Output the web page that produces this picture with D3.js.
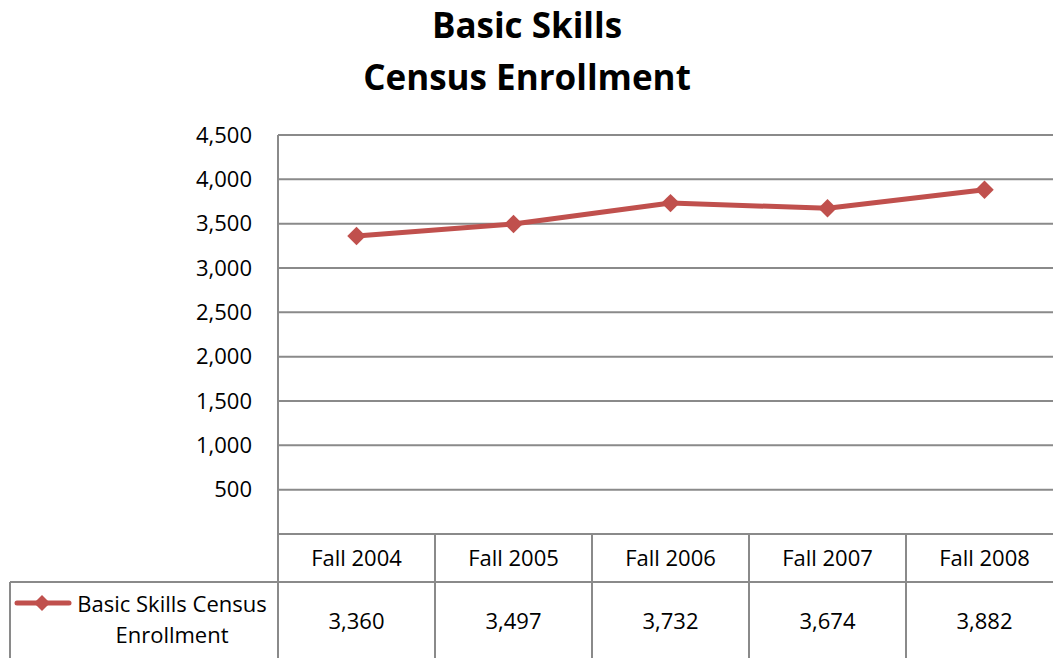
<!DOCTYPE html>
<html><head><meta charset="utf-8">
<script src="https://cdn.jsdelivr.net/npm/d3@7"></script>
<style>body{margin:0;background:#fff;} svg{display:block;font-family:"Open Sans","Noto Sans",sans-serif;}</style>
</head><body>
<svg id="c" width="1053" height="658"></svg>
<script>
const categories = ["Fall 2004","Fall 2005","Fall 2006","Fall 2007","Fall 2008"];
const values = [3360,3497,3732,3674,3882];
const seriesName = ["Basic Skills Census", "Enrollment"];
const titleLines = ["Basic Skills","Census Enrollment"];
const yTicks = [500,1000,1500,2000,2500,3000,3500,4000,4500];

(function(){
const svg = d3.select("#c");
const pLeft = 278, pRight = 1063, pTop = 135, pBottom = 534;
const x = d3.scaleBand().domain(categories).range([pLeft, pRight]);
const y = d3.scaleLinear().domain([0,4500]).range([pBottom, pTop]);
const grid = "#8a8a8a", red = "#C0504D";
const fmt = d3.format(",");
const fs = 22;

// title
svg.append("g").selectAll("text").data(titleLines).join("text")
  .attr("x", 527).attr("y",(d,i)=>38+i*52).attr("text-anchor","middle")
  .attr("font-size",35).attr("font-weight","bold").attr("fill","#000").text(d=>d);

// gridlines
svg.append("g").selectAll("line").data(yTicks).join("line")
  .attr("x1",pLeft).attr("x2",1053).attr("y1",d=>y(d)).attr("y2",d=>y(d))
  .attr("stroke",grid).attr("stroke-width",2);

// y axis
const yAxis = d3.axisLeft(y).tickValues(yTicks).tickFormat(fmt).tickSize(0).tickPadding(26);
const ya = svg.append("g").attr("transform",`translate(${pLeft},0)`).call(yAxis);
ya.select(".domain").remove();
ya.selectAll("text").attr("font-size",fs).attr("fill","#000").attr("font-family","Open Sans, Noto Sans, sans-serif");
svg.append("line").attr("x1",pLeft).attr("x2",pLeft).attr("y1",pTop).attr("y2",658).attr("stroke",grid).attr("stroke-width",2);

// table
const rowSplit = 582;
svg.append("line").attr("x1",pLeft).attr("x2",1053).attr("y1",pBottom).attr("y2",pBottom).attr("stroke",grid).attr("stroke-width",2);
svg.append("line").attr("x1",10).attr("x2",1053).attr("y1",rowSplit).attr("y2",rowSplit).attr("stroke",grid).attr("stroke-width",2);
svg.append("line").attr("x1",10).attr("x2",10).attr("y1",rowSplit).attr("y2",658).attr("stroke",grid).attr("stroke-width",2);
svg.append("g").selectAll("line").data(categories.slice(1)).join("line")
  .attr("x1",d=>x(d)).attr("x2",d=>x(d)).attr("y1",pBottom).attr("y2",658)
  .attr("stroke",grid).attr("stroke-width",2);
svg.append("g").selectAll("text").data(categories).join("text")
  .attr("x",d=>x(d)+x.bandwidth()/2).attr("y",566).attr("text-anchor","middle")
  .attr("font-size",fs).text(d=>d);
svg.append("g").selectAll("text").data(values).join("text")
  .attr("x",(d,i)=>x(categories[i])+x.bandwidth()/2).attr("y",629).attr("text-anchor","middle")
  .attr("font-size",fs).text(d=>fmt(d));

// legend
svg.append("line").attr("x1",17).attr("x2",69).attr("y1",603).attr("y2",603).attr("stroke",red).attr("stroke-width",5).attr("stroke-linecap","round");
svg.append("path").attr("d",d3.symbol(d3.symbolSquare,130)).attr("transform","translate(42,603) rotate(45)").attr("fill",red);
svg.append("g").selectAll("text").data(seriesName).join("text")
  .attr("x",172).attr("y",(d,i)=>612+i*31).attr("text-anchor","middle")
  .attr("font-size",fs).text(d=>d);

// line
const line = d3.line().x((d,i)=>x(categories[i])+x.bandwidth()/2).y(d=>y(d));
svg.append("path").datum(values).attr("d",line).attr("fill","none").attr("stroke",red).attr("stroke-width",5).attr("stroke-linejoin","round");
svg.append("g").selectAll("path").data(values).join("path")
  .attr("d",d3.symbol(d3.symbolSquare,170))
  .attr("transform",(d,i)=>`translate(${x(categories[i])+x.bandwidth()/2},${y(d)}) rotate(45)`)
  .attr("fill",red);
})();
</script>
</body></html>
